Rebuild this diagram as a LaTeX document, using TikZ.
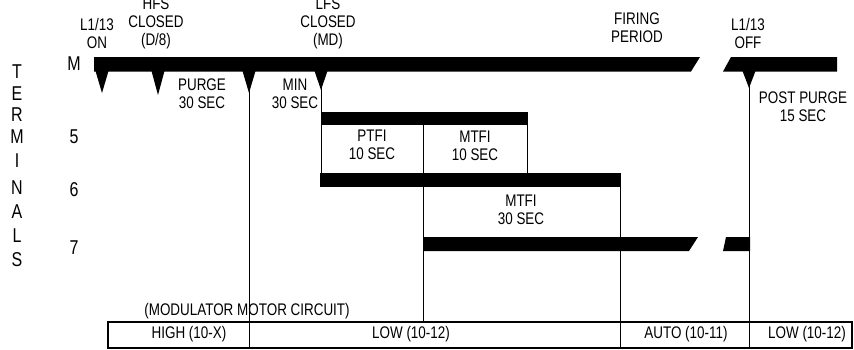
\documentclass[tikz,border=0pt]{standalone}
\usepackage{fontspec}
\setmainfont{Liberation Sans}[FakeStretch=0.8]

\tikzset{
  lbl/.style={inner sep=0pt,align=center,font=\fontsize{16.8}{18}\selectfont},
  rowlbl/.style={inner sep=0pt,font=\fontsize{20}{22}\selectfont},
  rule/.style={line width=1pt},
  cellbox/.style={line width=1.3pt},
}

\begin{document}
\begin{tikzpicture}[x=1pt,y=-1pt]
\useasboundingbox (0,0) rectangle (854,349);
%plot the bars
%M
\fill (94,57) -- (700,57) -- (691,71.5) -- (94,71.5) -- cycle;
\fill (731,57) -- (837,57) -- (837,71.5) -- (723,71.5) -- cycle;
%5
\fill (321,112) rectangle (528,125);
%6
\fill (320,173) rectangle (621,187);
%7
\fill (424,237) -- (698,237) -- (689,251) -- (424,251) -- cycle;
\fill (726,237) -- (750,237) -- (750,251) -- (723,251) -- cycle;
%pins under M
\foreach \xx/\tip in {102/93,158/95,249/93,321/90,749/88}
  \fill (\xx-6.5,71) -- (\xx+6.5,71) -- (\xx,\tip) -- cycle;

%timing lines
\draw[rule] (249,90) -- (249,347);
\draw[rule] (321,88) -- (321,173);
\draw[rule] (423,125) -- (423,322);
\draw[rule] (527,125) -- (527,173);
\draw[rule] (620,187) -- (620,347);
\draw[rule] (749,85) -- (749,347);

%modulator box
\draw[cellbox] (108,322) rectangle (852,348);

%put nodes
%terminals
\foreach \c/\yy [count=\i] in {T/72,E/94,R/115,M/137,I/161,N/188,A/212,L/236,S/260}
  \node[rowlbl] (term\i) at (17,\yy) {\c};
\node[rowlbl] (rowM) at (74,64) {M};
\node[rowlbl] (row5) at (74,137) {5};
\node[rowlbl] (row6) at (74,190) {6};
\node[rowlbl] (row7) at (74,248) {7};
%events
\node[lbl] (lon) at (97,33) {L1/13\\ON};
\node[lbl] (hfs) at (156,23) {HFS\\CLOSED\\(D/8)};
\node[lbl] (lfs) at (328,23) {LFS\\CLOSED\\(MD)};
\node[lbl] (fire) at (637,28) {FIRING\\PERIOD};
\node[lbl] (loff) at (748,33) {L1/13\\OFF};
%periods
\node[lbl] (purge) at (202,94) {PURGE\\30 SEC};
\node[lbl] (minp) at (295,94) {MIN\\30 SEC};
\node[lbl] (ptfi) at (372,145) {PTFI\\10 SEC};
\node[lbl] (mtfia) at (475,146) {MTFI\\10 SEC};
\node[lbl] (mtfib) at (521,210) {MTFI\\30 SEC};
\node[lbl] (post) at (803,107) {POST PURGE\\15 SEC};
%caption
\node[lbl] (modc) at (247,311) {(MODULATOR MOTOR CIRCUIT)};
\node[lbl] (high) at (189,334) {HIGH (10-X)};
\node[lbl] (lowa) at (411,334) {LOW (10-12)};
\node[lbl] (auto) at (686,334) {AUTO (10-11)};
\node[lbl] (lowb) at (807,334) {LOW (10-12)};
\end{tikzpicture}
\end{document}
